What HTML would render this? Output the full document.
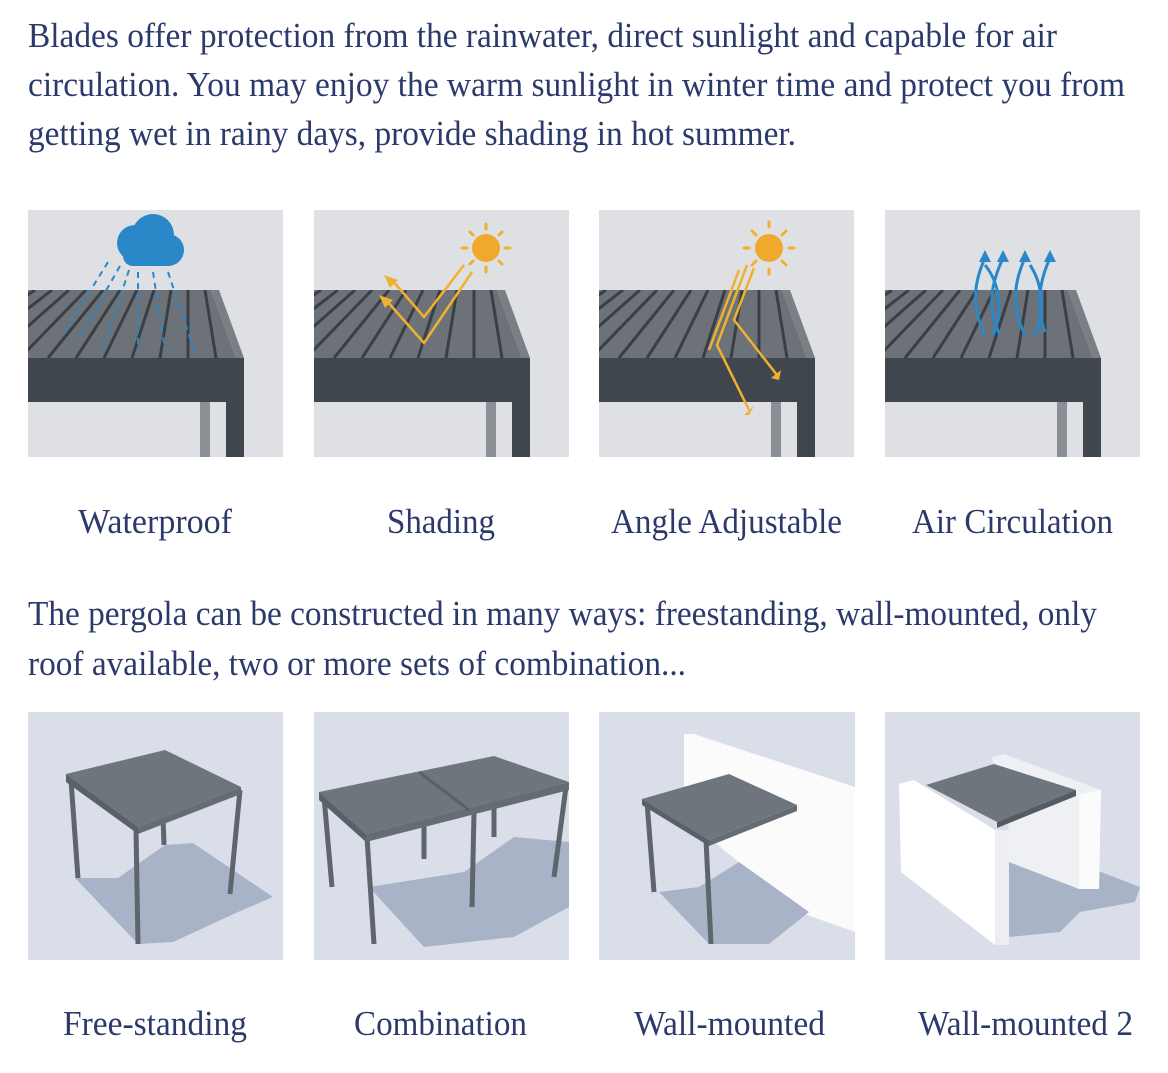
<!DOCTYPE html>
<html><head><meta charset="utf-8"><style>
html,body{margin:0;padding:0;background:#fff;}
svg{display:block}
text{font-family:"Liberation Serif",serif;fill:#2b3a6b;}
</style></head><body>
<svg width="1168" height="1073" viewBox="0 0 1168 1073" xmlns="http://www.w3.org/2000/svg">
<defs>
<clipPath id="c1"><polygon points="0,80 183,80 208,148 0,148"/></clipPath>
<g id="p1">
  <rect width="255" height="247" fill="#dfe0e3"/>
  <polygon points="0,80 183,80 208,148 0,148" fill="#6d7279"/>
  <g clip-path="url(#c1)" stroke="#3a3f45" stroke-width="3">
    <line x1="-120" y1="148" x2="-10" y2="80"/><line x1="-92" y1="148" x2="7" y2="80"/>
    <line x1="-64" y1="148" x2="24" y2="80"/><line x1="-36" y1="148" x2="41" y2="80"/>
    <line x1="-8" y1="148" x2="58" y2="80"/><line x1="20" y1="148" x2="75" y2="80"/>
    <line x1="48" y1="148" x2="92" y2="80"/><line x1="76" y1="148" x2="109" y2="80"/>
    <line x1="104" y1="148" x2="126" y2="80"/><line x1="132" y1="148" x2="143" y2="80"/>
    <line x1="160" y1="148" x2="160" y2="80"/><line x1="188" y1="148" x2="177" y2="80"/>
  </g>
  <polygon points="183,80 191,80 216,148 208,148" fill="#7a7f86"/>
  <rect x="0" y="148" width="216" height="44" fill="#40464d"/>
  <rect x="172" y="192" width="10" height="55" fill="#8a8f95"/>
  <rect x="198" y="192" width="18" height="55" fill="#40464d"/>
</g>
</defs>

<text x="28" y="47" font-size="35" textLength="1029" lengthAdjust="spacingAndGlyphs">Blades offer protection from the rainwater, direct sunlight and capable for air</text>
<text x="28" y="96" font-size="35" textLength="1097" lengthAdjust="spacingAndGlyphs">circulation. You may enjoy the warm sunlight in winter time and protect you from</text>
<text x="28" y="145" font-size="35" textLength="768" lengthAdjust="spacingAndGlyphs">getting wet in rainy days, provide shading in hot summer.</text>

<use href="#p1" x="28" y="210"/>
<use href="#p1" x="314" y="210"/>
<use href="#p1" x="599" y="210"/>
<use href="#p1" x="885" y="210"/>

<g transform="translate(28,210)">
  <circle cx="107" cy="33" r="18" fill="#2b88c8"/>
  <circle cx="125" cy="25" r="21" fill="#2b88c8"/>
  <circle cx="140" cy="40" r="16" fill="#2b88c8"/>
  <rect x="95" y="35" width="55" height="21" rx="10" fill="#2b88c8"/>
  <g stroke="#2b88c8" stroke-width="2" stroke-dasharray="6,5">
    <line x1="80" y1="52" x2="35" y2="125"/><line x1="92" y1="56" x2="50" y2="130"/>
    <line x1="101" y1="60" x2="75" y2="140"/><line x1="110" y1="62" x2="110" y2="140"/>
    <line x1="125" y1="62" x2="137" y2="140"/><line x1="140" y1="62" x2="167" y2="143"/>
  </g>
</g>
<g transform="translate(314,210)">
  <circle cx="172" cy="38" r="14" fill="#f0a92a"/>
  <g stroke="#f0b030" stroke-width="3" stroke-linecap="round">
    <line x1="172" y1="14" x2="172" y2="19"/><line x1="172" y1="57" x2="172" y2="62"/>
    <line x1="148" y1="38" x2="153" y2="38"/><line x1="191" y1="38" x2="196" y2="38"/>
    <line x1="156" y1="22" x2="159" y2="25"/><line x1="185" y1="51" x2="188" y2="54"/>
    <line x1="188" y1="22" x2="185" y2="25"/><line x1="156" y1="54" x2="159" y2="51"/>
  </g>
  <g stroke="#f0b030" stroke-width="2.5" fill="none">
    <polyline points="150,55 110,107 78,70"/><polyline points="158,62 110,133 72,90"/>
  </g>
  <polygon points="70,65 84,70 76,78" fill="#f0b030"/><polygon points="65,85 79,90 71,98" fill="#f0b030"/>
</g>
<g transform="translate(599,210)">
  <circle cx="170" cy="38" r="14" fill="#f0a92a"/>
  <g stroke="#f0b030" stroke-width="3" stroke-linecap="round">
    <line x1="170" y1="12" x2="170" y2="17"/><line x1="170" y1="59" x2="170" y2="64"/>
    <line x1="145" y1="38" x2="150" y2="38"/><line x1="190" y1="38" x2="195" y2="38"/>
    <line x1="153" y1="21" x2="157" y2="25"/><line x1="183" y1="51" x2="187" y2="55"/>
    <line x1="187" y1="21" x2="183" y2="25"/><line x1="153" y1="55" x2="157" y2="51"/>
  </g>
  <g stroke="#f0b030" stroke-width="2.5" fill="none">
    <polyline points="148,55 118,135 150,200"/><polyline points="155,58 135,110 178,165"/>
    <line x1="140" y1="60" x2="110" y2="140"/>
  </g>
  <polygon points="145,205 155,196 150,205" fill="#f0b030"/><polygon points="172,168 182,160 180,170" fill="#f0b030"/>
</g>
<g transform="translate(885,210)" stroke="#2b88c8" stroke-width="3" fill="none">
  <path d="M100,125 C85,95 90,70 100,48"/><path d="M115,125 C100,95 108,70 118,48"/>
  <path d="M140,125 C125,95 130,70 140,48"/><path d="M160,122 C150,95 155,70 165,48"/>
  <path d="M108,125 C120,95 112,70 100,55"/><path d="M150,125 C162,95 155,70 145,55"/>
  <g fill="#2b88c8" stroke="none">
    <polygon points="100,40 94,52 106,52"/><polygon points="118,40 112,52 124,52"/>
    <polygon points="140,40 134,52 146,52"/><polygon points="165,40 159,52 171,52"/>
  </g>
</g>

<text x="78" y="533" font-size="35" textLength="154" lengthAdjust="spacingAndGlyphs">Waterproof</text>
<text x="387" y="533" font-size="35" textLength="108" lengthAdjust="spacingAndGlyphs">Shading</text>
<text x="611" y="533" font-size="35" textLength="231" lengthAdjust="spacingAndGlyphs">Angle Adjustable</text>
<text x="912" y="533" font-size="35" textLength="201" lengthAdjust="spacingAndGlyphs">Air Circulation</text>

<text x="28" y="625" font-size="35" textLength="1069" lengthAdjust="spacingAndGlyphs">The pergola can be constructed in many ways: freestanding, wall-mounted, only</text>
<text x="28" y="675" font-size="35" textLength="658" lengthAdjust="spacingAndGlyphs">roof available, two or more sets of combination...</text>

<g transform="translate(28,712)">
  <rect width="255" height="248" fill="#d9dee9"/>
  <polygon points="47,166 90,166 137,133 165,131 245,185 210,200 145,230 110,232" fill="#a9b3c8"/>
  <g stroke="#5f656d" stroke-width="5"><line x1="43" y1="68" x2="50" y2="166"/><line x1="108" y1="117" x2="110" y2="232"/><line x1="212" y1="78" x2="202" y2="182"/><line x1="135" y1="105" x2="136" y2="133"/></g>
  <polygon points="38,62 137,38 213,75 110,115" fill="#6f757d"/>
  <polygon points="38,62 110,115 110,122 38,70" fill="#5a6068"/>
  <polygon points="110,115 213,75 213,82 110,122" fill="#666c74"/>
</g>
<g transform="translate(314,712)">
  <rect width="255" height="248" fill="#d9dee9"/>
  <polygon points="55,175 150,160 200,125 255,130 255,195 200,225 110,235" fill="#a9b3c8"/>
  <g stroke="#5f656d" stroke-width="5"><line x1="10" y1="85" x2="18" y2="175"/><line x1="53" y1="125" x2="60" y2="232"/><line x1="160" y1="100" x2="158" y2="195"/><line x1="252" y1="75" x2="240" y2="165"/><line x1="110" y1="110" x2="110" y2="147"/><line x1="180" y1="88" x2="180" y2="125"/></g>
  <polygon points="5,80 180,44 255,70 52,122" fill="#6f757d"/>
  <polygon points="5,80 52,122 52,130 5,88" fill="#5a6068"/>
  <polygon points="52,122 255,70 255,78 52,130" fill="#666c74"/>
  <line x1="105" y1="60" x2="155" y2="98" stroke="#5a6068" stroke-width="3"/>
</g>
<g transform="translate(599,712)">
  <rect width="256" height="248" fill="#d9dee9"/>
  <polygon points="85,22 95,22 256,75 256,220 200,200 85,105" fill="#fbfbfc"/>
  <polygon points="60,180 100,175 140,150 210,200 170,232 110,232" fill="#a9b3c8"/>
  <g stroke="#5f656d" stroke-width="5"><line x1="48" y1="90" x2="55" y2="180"/><line x1="107" y1="128" x2="112" y2="232"/></g>
  <polygon points="43,87 130,62 198,93 110,128" fill="#6f757d"/>
  <polygon points="43,87 110,128 110,134 43,93" fill="#5a6068"/>
  <polygon points="110,128 198,93 198,99 110,134" fill="#666c74"/>
</g>
<g transform="translate(885,712)">
  <rect width="255" height="248" fill="#d9dee9"/>
  <polygon points="124,140 160,140 216,160 255,175 250,190 195,200 175,220 124,225" fill="#a9b3c8"/>
  <polygon points="107,45 119,42 216,78 214,177 194,177 124,150 124,118" fill="#eef0f4"/>
  <polygon points="194,83 216,78 214,177 194,177" fill="#fbfbfc"/>
  <polygon points="41,73 109,52 191,78 112,110" fill="#6f757d"/>
  <polygon points="112,110 191,78 191,84 112,116" fill="#555b63"/>
  <polygon points="14,72 29,68 110,118 110,233 16,160" fill="#ffffff"/>
  <polygon points="110,118 124,118 124,233 110,233" fill="#eceef2"/>
</g>

<text x="63" y="1035" font-size="35" textLength="184" lengthAdjust="spacingAndGlyphs">Free-standing</text>
<text x="354" y="1035" font-size="35" textLength="173" lengthAdjust="spacingAndGlyphs">Combination</text>
<text x="634" y="1035" font-size="35" textLength="191" lengthAdjust="spacingAndGlyphs">Wall-mounted</text>
<text x="918" y="1035" font-size="35" textLength="215" lengthAdjust="spacingAndGlyphs">Wall-mounted 2</text>
</svg>
</body></html>
